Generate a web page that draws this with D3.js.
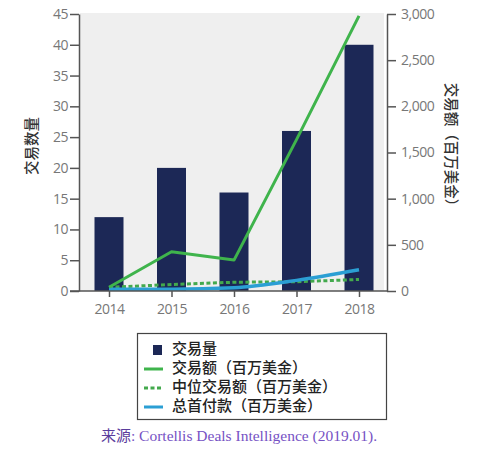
<!DOCTYPE html>
<html>
<head>
<meta charset="utf-8">
<script src="https://cdn.jsdelivr.net/npm/d3@7"></script>
<style>
  body { margin: 0; background: #fff; }
  svg text { font-family: "Open Sans", "Noto Sans", sans-serif; }
</style>
</head>
<body>
<div id="chart"></div>
<script>
const years = ['2014', '2015', '2016', '2017', '2018'];
const dealCount = [12, 20, 16, 26, 40];
const dealValue = [40, 425, 335, 1640, 2980];
const medianValue = [40, 70, 95, 100, 125];
const upfront = [20, 20, 35, 115, 230];
const leftTicks = [0, 5, 10, 15, 20, 25, 30, 35, 40, 45];
const rightTicks = [0, 500, 1000, 1500, 2000, 2500, 3000];
const legendLabels = ['交易量', '交易额（百万美金）', '中位交易额（百万美金）', '总首付款（百万美金）'];

const W = 490, H = 453;
const plot = { left: 79, right: 387, top: 14, bottom: 291 };

const svg = d3.select('#chart')
  .append('svg')
  .attr('width', W)
  .attr('height', H);

// background of plot area
svg.append('rect')
  .attr('x', plot.left + 1)
  .attr('y', plot.top - 1)
  .attr('width', 304)
  .attr('height', plot.bottom - plot.top + 1)
  .attr('fill', '#efefef');

const x = d3.scalePoint()
  .domain(years)
  .range([109, 359]);

const yL = d3.scaleLinear().domain([0, 45]).range([plot.bottom, plot.top]);
const yR = d3.scaleLinear().domain([0, 3000]).range([plot.bottom, plot.top]);

const barW = 29;
svg.append('g')
  .selectAll('rect')
  .data(dealCount)
  .enter()
  .append('rect')
  .attr('x', (d, i) => x(years[i]) - barW / 2)
  .attr('y', d => yL(d))
  .attr('width', barW)
  .attr('height', d => yL(0) - yL(d))
  .attr('fill', '#1c2856');

// lines
const line = d3.line()
  .x((d, i) => x(years[i]))
  .y(d => yR(d));

svg.append('path')
  .datum(medianValue)
  .attr('fill', 'none')
  .attr('stroke', '#43a94d')
  .attr('stroke-width', 3)
  .attr('stroke-dasharray', '4,2.5')
  .attr('d', line);

svg.append('path')
  .datum(upfront)
  .attr('fill', 'none')
  .attr('stroke', '#2b9fd4')
  .attr('stroke-width', 3.5)
  .attr('d', line.curve(d3.curveMonotoneX));

svg.append('path')
  .datum(dealValue)
  .attr('fill', 'none')
  .attr('stroke', '#3fb44c')
  .attr('stroke-width', 3)
  .attr('stroke-linejoin', 'round')
  .attr('d', d3.line().x((d, i) => x(years[i])).y(d => yR(d)));

// axes
const axisColor = '#555';
const tickColor = '#777';

const leftAxis = svg.append('g')
  .attr('transform', `translate(${plot.left},0)`)
  .call(d3.axisLeft(yL).tickValues(leftTicks).tickSize(9).tickPadding(2).tickSizeOuter(0));

const rightAxis = svg.append('g')
  .attr('transform', `translate(${plot.right},0)`)
  .call(d3.axisRight(yR).tickValues(rightTicks).tickSize(9).tickPadding(5).tickSizeOuter(0)
    .tickFormat(d3.format(',')));

const bottomAxis = svg.append('g')
  .attr('transform', `translate(0,${plot.bottom})`)
  .call(d3.axisBottom(x).tickSize(6).tickPadding(7).tickSizeOuter(0));

// baseline spanning from left tick to right axis
bottomAxis.select('.domain').remove();
svg.append('line')
  .attr('x1', plot.left - 9).attr('x2', plot.right)
  .attr('y1', plot.bottom).attr('y2', plot.bottom)
  .attr('stroke', axisColor).attr('stroke-width', 1.5);

[leftAxis, rightAxis, bottomAxis].forEach(g => {
  g.selectAll('.domain').attr('stroke', axisColor).attr('stroke-width', 1.5);
  g.selectAll('.tick line').attr('stroke', axisColor).attr('stroke-width', 1.5);
  g.selectAll('.tick text')
    .attr('fill', tickColor)
    .style('font-size', '14px')
    .style('letter-spacing', '-0.5px')
    .style('font-family', '"Open Sans", sans-serif');
});

// axis titles
svg.append('text')
  .attr('transform', 'translate(33,146) rotate(-90)')
  .attr('text-anchor', 'middle')
  .attr('dominant-baseline', 'middle')
  .style('font-family', '"Noto Sans CJK SC", sans-serif')
  .style('font-size', '14.5px')
  .style('font-weight', '500')
  .attr('fill', '#333')
  .text('交易数量');

svg.append('text')
  .attr('transform', 'translate(450,148) rotate(90)')
  .attr('text-anchor', 'middle')
  .attr('dominant-baseline', 'middle')
  .style('font-family', '"Noto Sans CJK SC", sans-serif')
  .style('font-size', '14.5px')
  .style('font-weight', '500')
  .attr('fill', '#333')
  .text('交易额（百万美金）');

// legend
const legend = svg.append('g');
legend.append('rect')
  .attr('x', 137.5).attr('y', 333.5)
  .attr('width', 249).attr('height', 86)
  .attr('fill', '#fff')
  .attr('stroke', '#444')
  .attr('stroke-width', 1.2);

const rowY = d3.scalePoint().domain(legendLabels).range([350, 407]);
const swatch = [
  g => g.append('rect').attr('x', 153).attr('y', -5).attr('width', 9).attr('height', 10).attr('fill', '#1c2856'),
  g => g.append('line').attr('x1', 144).attr('x2', 163).attr('stroke', '#3fb44c').attr('stroke-width', 3),
  g => g.append('line').attr('x1', 144).attr('x2', 163).attr('stroke', '#43a94d').attr('stroke-width', 3).attr('stroke-dasharray', '4,2.5'),
  g => g.append('line').attr('x1', 144).attr('x2', 163).attr('stroke', '#2b9fd4').attr('stroke-width', 3)
];

legendLabels.forEach((label, i) => {
  const row = legend.append('g').attr('transform', `translate(0,${rowY(label)})`);
  swatch[i](row);
  row.append('text')
    .attr('x', 172)
    .attr('dominant-baseline', 'middle')
    .style('font-family', '"Noto Sans CJK SC", sans-serif')
    .style('font-size', '15px')
    .style('font-weight', '500')
    .attr('fill', '#222')
    .text(label);
});

// source
const src = svg.append('text')
  .attr('x', 239)
  .attr('y', 441)
  .attr('text-anchor', 'middle')
  .style('font-size', '15.5px')
  .style('font-family', '"Liberation Serif", serif');
src.append('tspan')
  .style('font-family', '"Noto Sans CJK SC", sans-serif')
  .style('font-size', '15px')
  .attr('fill', '#5a3c9c')
  .text('来源');
src.append('tspan')
  .attr('fill', '#7652c4')
  .text(': Cortellis Deals Intelligence (2019.01).');
</script>
</body>
</html>
